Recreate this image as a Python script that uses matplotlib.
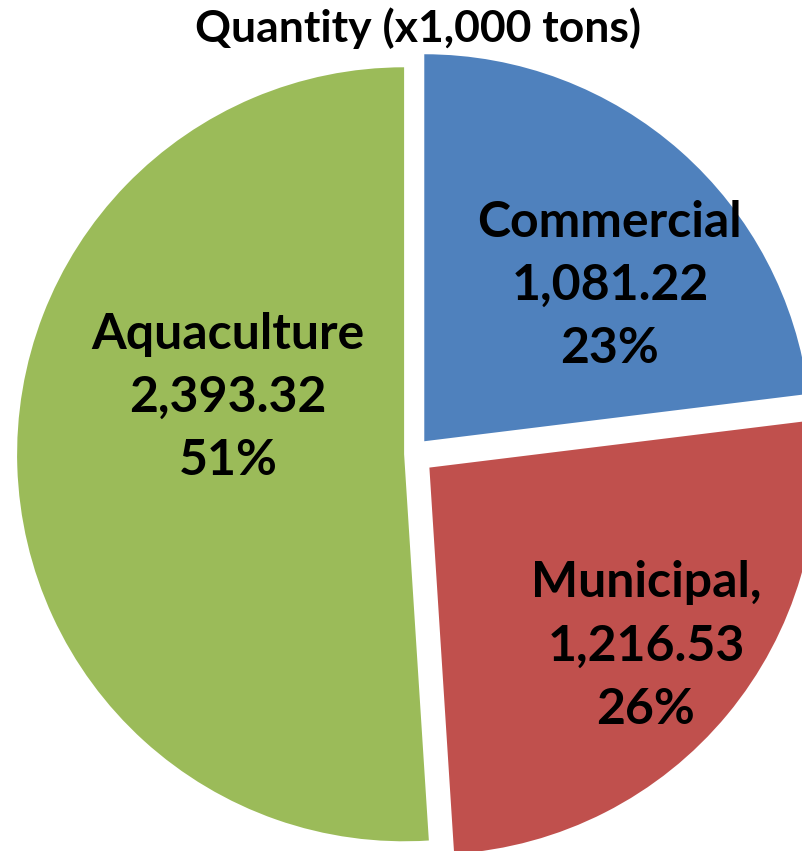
import matplotlib
matplotlib.use("Agg")
import matplotlib.pyplot as plt
import numpy as np

plt.rcParams['font.family'] = ['Lato', 'DejaVu Sans']

# fish production by sector (x1,000 tons)
sectors = ['Commercial', 'Municipal,', 'Aquaculture']
quantity = [1081.22, 1216.53, 2393.32]
colors = ['#4F81BD', '#C0504D', '#9BBB59']
explode = [0.044, 0.055, 0.023]

# where each label sits: polar angle (deg) and radius, in pie units
label_angle = [40.6, -39.5, 163.0]
label_radius = [0.67, 0.78, 0.50]

W, H = 803, 851
fig = plt.figure(figsize=(W / 100, H / 100), dpi=100)
ax = fig.add_axes([0, 0, 1, 1])

ax.pie(quantity, colors=colors, explode=explode, startangle=90,
       counterclock=False, radius=1.0, wedgeprops=dict(linewidth=0))

total = sum(quantity)
for name, q, a, r in zip(sectors, quantity, label_angle, label_radius):
    x = r * np.cos(np.radians(a))
    y = r * np.sin(np.radians(a))
    txt = f"{name}\n{q:,.2f}\n{q / total:.0%}"
    ax.text(x, y, txt, ha='center', va='center', fontsize=36,
            fontweight='bold', color='black', linespacing=1.49)

# pie radius is 387 px, centre at (413, 454) px from top-left; right and bottom are clipped
scale = 387.0
cx, cy = 413.0, 454.0
ax.set_xlim(-cx / scale, (W - cx) / scale)
ax.set_ylim(-(H - cy) / scale, cy / scale)
ax.set_aspect('equal')
ax.axis('off')

fig.text(418 / W, 1 - 28 / H, 'Quantity (x1,000 tons)', ha='center', va='center',
         fontsize=32, fontweight='bold')

fig.savefig('out.png', dpi=100)
